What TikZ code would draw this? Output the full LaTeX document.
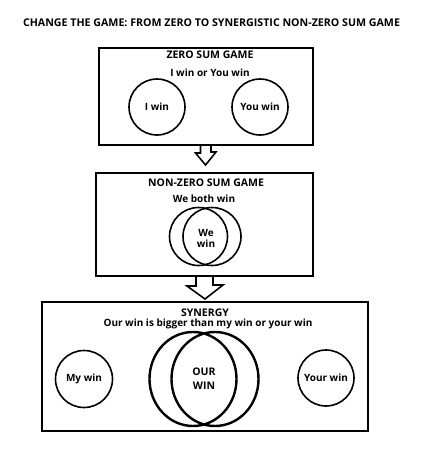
\documentclass[tikz,border=0pt]{standalone}
\usepackage{fontspec}
\setmainfont{Open Sans}
\usetikzlibrary{positioning}
\usetikzlibrary{shapes.geometric}

\begin{document}
\begin{tikzpicture}[x=1pt,y=-1pt,
  font=\bfseries\fontsize{10}{11}\selectfont,
  headline/.style={font=\bfseries\fontsize{10.5}{11}\selectfont},
  gamebox/.style={draw, line width=2pt, inner sep=0pt},
  wincircle/.style={draw, circle, line width=1.6pt, inner sep=0pt, align=center},
  bigoval/.style={draw, ellipse, line width=2.4pt, inner sep=0pt},
  bigarrow/.style={draw, line width=1.6pt, line join=miter}]
\useasboundingbox (0,0) rectangle (431,450);

% title
\node[font=\bfseries\fontsize{10.65}{12}\selectfont] (title) at (211.5,23) {CHANGE THE GAME: FROM ZERO TO SYNERGISTIC NON-ZERO SUM GAME};

% zero sum
\node[gamebox, minimum width=214pt, minimum height=97pt] (zero) at (206,96.5) {};
\node[headline] (zerohead) at (210,55) {ZERO SUM GAME};
\node (zerosub) at (210,73) {I win or You win};
\node[wincircle, minimum size=56pt] (iwin) at (157,107) {I win};
\node[wincircle, minimum size=56pt] (youwin) at (260,107) {You win};

\draw[bigarrow] (zero.south) ++(-5.5,0) -- ++(0,7) -- ++(-5,0) -- (205.5,165) -- (216,152) -- ++(-5,0) -- ++(0,-7);

% non-zero sum
\node[gamebox, minimum width=217pt, minimum height=103pt] (nonzero) at (204.5,224.5) {};
\node[headline] (nonzerohead) at (206,183) {NON-ZERO SUM GAME};
\node (nonzerosub) at (204,199) {We both win};
\node[wincircle, minimum size=58pt] (weleft) at (198.5,236.5) {};
\node[wincircle, minimum size=58pt] (weright) at (212,236.5) {};
\node[align=center, inner sep=0pt] (wewin) at (206,238) {We\\win};

\draw[bigarrow] (nonzero.south) ++(-8.5,0) -- ++(0,9) -- ++(-9,0) -- (205,299) -- (223,285) -- ++(-10,0) -- ++(0,-9);

% synergy
\node[gamebox, minimum width=326pt, minimum height=129pt] (synergy) at (205,366.5) {};
\node[headline] (synhead) at (205,313) {SYNERGY};
\node (synsub) at (208,323.5) {Our win is bigger than my win or your win};
\node[wincircle, minimum size=57pt] (mywin) at (84,379) {My win};
\node[wincircle, minimum size=56pt] (yourwin) at (326,378) {Your win};
\node[bigoval, minimum width=87pt, minimum height=94pt] (ourleft) at (193,379) {};
\node[bigoval, minimum width=87pt, minimum height=94pt] (ourright) at (215,379) {};
\node[align=center, inner sep=0pt, font=\bfseries\fontsize{10.5}{14}\selectfont] (ourwin) at (204,379) {OUR\\WIN};

\end{tikzpicture}
\end{document}
